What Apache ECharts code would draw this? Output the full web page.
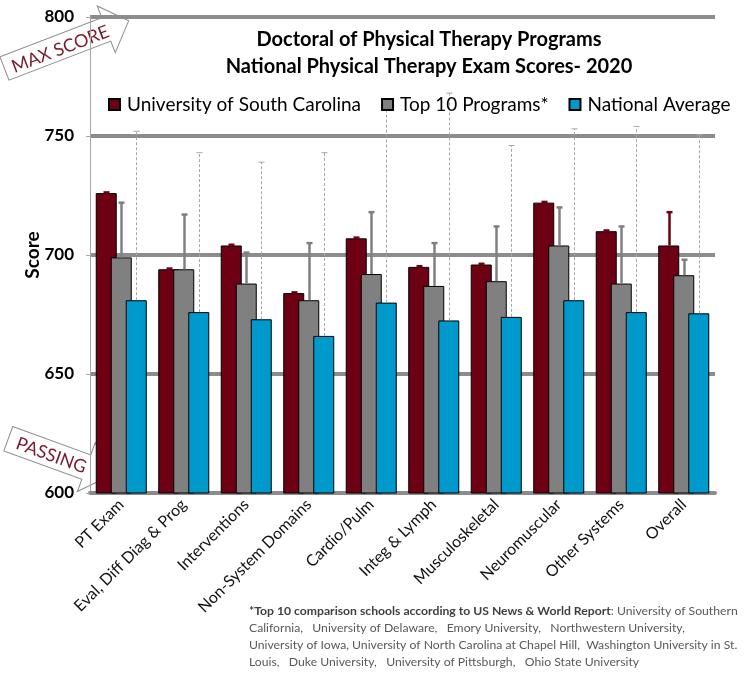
<!DOCTYPE html>
<html>
<head>
<meta charset="utf-8">
<script src="https://cdn.jsdelivr.net/npm/echarts@6/dist/echarts.min.js"></script>
<style>
html,body{margin:0;padding:0;background:#fff;}
#chart{width:746px;height:677px;}
</style>
</head>
<body>
<div id="chart"></div>
<script>
const categories = ['PT Exam','Eval, Diff Diag & Prog','Interventions','Non-System Domains','Cardio/Pulm','Integ & Lymph','Musculoskeletal','Neuromuscular','Other Systems','Overall'];
const seriesNames = ['University of South Carolina','Top 10 Programs*','National Average'];
const uscValues = [726, 694, 704, 684, 707, 695, 696, 722, 710, 704];
const top10Values = [699, 694, 688, 681, 692, 687, 689, 704, 688, 691.5];
const nationalValues = [681, 676, 673, 666, 680, 672.5, 674, 681, 676, 675.5];
const uscHigh = [726.3, 694.3, 704.3, 684.3, 707.3, 695.3, 696.3, 722.3, 710.3, 718];
const top10High = [722, 717, 701, 705, 718, 705, 712, 720, 712, 698];
const nationalHigh = [752, 743, 739, 743, 764, 768, 746, 753, 754, 750.5];
const yTicks = [600, 650, 700, 750, 800];
const titleLines = ['Doctoral of Physical Therapy Programs', 'National Physical Therapy Exam Scores- 2020'];
const footBold = '*Top 10 comparison schools according to US News & World Report';
const footLines = [
  ': University of Southern',
  'California,   University of Delaware,   Emory University,   Northwestern University,',
  'University of Iowa, University of North Carolina at Chapel Hill,  Washington University in St.',
  'Louis,   Duke University,   University of Pittsburgh,   Ohio State University'
];

const FONT = 'Lato, "Noto Sans", sans-serif';
const colors = ['#6e0014', '#808080', '#0099cc'];
const BAR_W = 21;
const BAR_GAP = -0.2857;
const step = BAR_W * (1 + BAR_GAP);

function errSeries(idx, values, highs, style, capHalf) {
  const offset = (idx - 1) * step;
  return {
    type: 'custom',
    z: 3,
    silent: true,
    data: values.map((v, i) => [i, v, highs[i]]),
    renderItem: function (params, api) {
      const b = api.coord([api.value(0), api.value(1)]);
      const t = api.coord([api.value(0), api.value(2)]);
      const x = Math.round(b[0] + offset) + 0.5;
      return {
        type: 'group',
        children: [
          {type: 'line', shape: {x1: x, y1: b[1], x2: x, y2: t[1]}, style: style},
          {type: 'line', shape: {x1: x - capHalf, y1: t[1], x2: x + capHalf, y2: t[1]}, style: Object.assign({}, style, {lineDash: null})}
        ]
      };
    }
  };
}

const chart = echarts.init(document.getElementById('chart'), null, {renderer: 'canvas'});
const option = {
  animation: false,
  backgroundColor: '#fff',
  textStyle: {fontFamily: FONT},
  title: {
    text: titleLines.join('\n'),
    left: 424, top: 21, textAlign: 'center',
    textStyle: {fontFamily: FONT, fontSize: 20, fontWeight: 'bold', color: '#000', lineHeight: 27}
  },
  legend: {
    left: 103, top: 90, width: 640,
    itemWidth: 11, itemHeight: 11, itemGap: 20,
    icon: 'rect',
    data: seriesNames,
    textStyle: {fontFamily: FONT, fontSize: 19, color: '#000', padding: [0,0,0,2]}
  },
  grid: {left: 90, right: 31, top: 17, bottom: 184, containLabel: false},
  xAxis: {
    type: 'category',
    data: categories,
    axisLine: {lineStyle: {color: '#8c8c8c', width: 4}},
    axisTick: {show: false},
    axisLabel: {interval: 0, rotate: 45, fontSize: 16, color: '#111', margin: 9, fontFamily: FONT}
  },
  yAxis: {
    type: 'value',
    min: yTicks[0], max: yTicks[yTicks.length - 1], interval: 50,
    name: 'Score', nameLocation: 'middle', nameGap: 48, nameMoveOverlap: false,
    nameTextStyle: {fontFamily: FONT, fontSize: 19, fontWeight: 'bold', color: '#000'},
    axisLine: {show: true, lineStyle: {color: '#a6a6a6', width: 1}},
    axisTick: {show: true, length: 4, lineStyle: {color: '#a6a6a6'}},
    axisLabel: {fontSize: 17, fontWeight: 'bold', color: '#000', margin: 16, fontFamily: FONT},
    splitLine: {show: true, lineStyle: {color: '#8c8c8c', width: 4}}
  },
  series: [
    {name: seriesNames[0], type: 'bar', data: uscValues, barWidth: BAR_W, barGap: (BAR_GAP * 100) + '%',
     itemStyle: {color: colors[0], borderColor: '#000', borderWidth: 1}, z: 2},
    {name: seriesNames[1], type: 'bar', data: top10Values, barWidth: BAR_W, barGap: (BAR_GAP * 100) + '%',
     itemStyle: {color: colors[1], borderColor: '#000', borderWidth: 1}, z: 2},
    {name: seriesNames[2], type: 'bar', data: nationalValues, barWidth: BAR_W, barGap: (BAR_GAP * 100) + '%',
     itemStyle: {color: colors[2], borderColor: '#000', borderWidth: 1}, z: 2},
    errSeries(0, uscValues, uscHigh, {stroke: '#6e0014', lineWidth: 2.5}, 3),
    errSeries(1, top10Values, top10High, {stroke: '#808080', lineWidth: 2.5}, 3),
    errSeries(2, nationalValues, nationalHigh, {stroke: '#a6a6a6', lineWidth: 1, lineDash: [3, 2]}, 3)
  ],
  graphic: [
    {
      type: 'group', x: 4.5, y: 68.5, rotation: 21 * Math.PI / 180, z: 100,
      children: [
        {type: 'polygon', shape: {points: [[0,-12.5],[109,-12.5],[109,-25],[133,0],[109,25],[109,12.5],[0,12.5]]},
         style: {fill: '#fff', stroke: '#8c8c8c', lineWidth: 1}},
        {type: 'text', x: 59, y: 2, style: {text: 'MAX SCORE', fill: '#7b1c2c', font: '18px ' + FONT, align: 'center', verticalAlign: 'middle'}}
      ]
    },
    {
      type: 'group', x: 8.3, y: 438.7, rotation: -20 * Math.PI / 180, z: 100,
      children: [
        {type: 'polygon', shape: {points: [[0,-13],[83,-13],[83,-26],[108,0],[83,26],[83,13],[0,13]]},
         style: {fill: 'rgba(255,255,255,0)', stroke: '#8c8c8c', lineWidth: 1}},
        {type: 'text', x: 46, y: 1, style: {text: 'PASSING', fill: '#7b1c2c', font: '18px ' + FONT, align: 'center', verticalAlign: 'middle'}}
      ]
    },
    {
      type: 'text', left: 249, top: 605, z: 100,
      style: {
        text: '{b|' + footBold + '}{n|' + footLines[0] + '}',
        rich: {
          b: {fontFamily: FONT, fontSize: 12.2, fontWeight: 'bold', fill: '#404040'},
          n: {fontFamily: FONT, fontSize: 12.2, fill: '#595959'}
        }
      }
    },
    {type: 'text', left: 249, top: 622, z: 100, style: {text: footLines[1], font: '12.2px ' + FONT, fill: '#595959'}},
    {type: 'text', left: 249, top: 639, z: 100, style: {text: footLines[2], font: '12.2px ' + FONT, fill: '#595959'}},
    {type: 'text', left: 249, top: 656, z: 100, style: {text: footLines[3], font: '12.2px ' + FONT, fill: '#595959'}}
  ]
};
chart.setOption(option);
</script>
</body>
</html>
